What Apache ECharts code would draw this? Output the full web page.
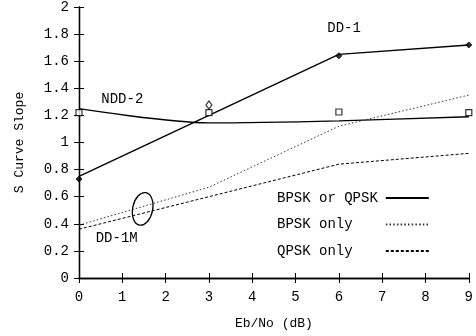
<!DOCTYPE html>
<html><head><meta charset="utf-8">
<script src="https://cdn.jsdelivr.net/npm/echarts@6/dist/echarts.min.js"></script>
<style>html,body{margin:0;padding:0;background:#fff}#c{width:476px;height:336px}</style>
</head><body><div id="c"></div>
<script>
const xVals = [0, 3, 6, 9];
const dd1 = [0.75, 1.20, 1.65, 1.72];
const ndd2 = [1.25, 1.145, 1.16, 1.19];
const bpskOnly = [0.39, 0.67, 1.12, 1.35];
const qpskOnly = [0.36, 0.60, 0.84, 0.92];
const squareMarks = [[0, 1.22], [3, 1.22], [6, 1.225], [9, 1.22]];
const diamondFilled = [[0, 0.73], [6, 1.64], [9, 1.72]];
const diamondOpen = [[3, 1.277]];
const legendNames = ['BPSK or QPSK', 'BPSK only', 'QPSK only'];
const annotations = [
  {text: 'NDD-2', x: 1.0, y: 1.32},
  {text: 'DD-1', x: 6.12, y: 1.84},
  {text: 'DD-1M', x: 0.87, y: 0.295}
];
const ellipse = {x: 1.47, y: 0.51};
const FONT = 'Liberation Mono';
const pair = arr => xVals.map((x, i) => [x, arr[i]]);

const chart = echarts.init(document.getElementById('c'), null, {renderer: 'canvas'});
const axisCommon = {
  axisLine: {show: true, lineStyle: {color: '#000', width: 1.3}},
  axisTick: {show: true, inside: true, length: 5, lineStyle: {color: '#000'}},
  splitLine: {show: false},
  axisLabel: {color: '#000', fontFamily: FONT, fontSize: 14}
};
chart.setOption({
  animation: false,
  backgroundColor: '#fff',
  grid: {left: 79, right: 4, top: 7, bottom: 58},
  xAxis: [
    Object.assign({}, axisCommon, {type: 'value', min: 0, max: 9, interval: 1, position: 'bottom',
      name: 'Eb/No (dB)', nameLocation: 'middle', nameGap: 39,
      nameTextStyle: {color: '#000', fontFamily: FONT, fontSize: 13},
      axisLabel: {color: '#000', fontFamily: FONT, fontSize: 14, margin: 12}}),
    Object.assign({}, axisCommon, {type: 'value', min: 0, max: 9, interval: 1, position: 'top',
      axisLabel: {show: false}})
  ],
  yAxis: [
    Object.assign({}, axisCommon, {type: 'value', min: 0, max: 2, interval: 0.2, position: 'left',
      name: 'S Curve Slope', nameLocation: 'middle', nameGap: 53,
      nameTextStyle: {color: '#000', fontFamily: FONT, fontSize: 13},
      axisLabel: {color: '#000', fontFamily: FONT, fontSize: 14, margin: 10}}),
    Object.assign({}, axisCommon, {type: 'value', min: 0, max: 2, interval: 0.2, position: 'right',
      axisLabel: {show: false}})
  ],
  legend: {
    show: true,
    data: legendNames,
    orient: 'vertical', left: 272, top: 186, align: 'right',
    itemWidth: 43, itemHeight: 14, itemGap: 12.5,
    formatter: n => n.padEnd(12, '\u00a0'),
    itemStyle: {color: 'transparent', borderWidth: 0, opacity: 0},
    textStyle: {color: '#000', fontFamily: FONT, fontSize: 14, padding: [0, 3, 0, 0]},
    inactiveColor: '#000'
  },
  series: [
    {name: legendNames[0], type: 'line', data: pair(dd1), symbol: 'none',
      lineStyle: {color: '#000', width: 1.4, type: 'solid'}, itemStyle: {color: '#000'}},
    {name: legendNames[0], type: 'line', data: pair(ndd2), symbol: 'none', smooth: 0.3,
      lineStyle: {color: '#000', width: 1.3, type: 'solid'}, itemStyle: {color: '#000'}},
    {name: legendNames[1], type: 'line', data: pair(bpskOnly), symbol: 'none',
      lineStyle: {color: '#333', width: 1, type: [1.5, 2.2]}, itemStyle: {color: '#333'}},
    {name: legendNames[2], type: 'line', data: pair(qpskOnly), symbol: 'none',
      lineStyle: {color: '#000', width: 1, type: [3, 2]}, itemStyle: {color: '#000'}},
    {name: 'sq', type: 'scatter', data: squareMarks, symbol: 'rect', symbolSize: 6,
      itemStyle: {color: '#fff', borderColor: '#000', borderWidth: 1.2}, z: 5},
    {name: 'df', type: 'scatter', data: diamondFilled, symbol: 'diamond', symbolSize: 6,
      itemStyle: {color: '#000', borderColor: '#000', borderWidth: 1}, z: 5},
    {name: 'do', type: 'scatter', data: diamondOpen, symbol: 'diamond', symbolSize: [6, 8],
      itemStyle: {color: '#fff', borderColor: '#000', borderWidth: 1.2}, z: 5}
  ]
});

const g = annotations.map(a => {
  const p = chart.convertToPixel({gridIndex: 0}, [a.x, a.y]);
  return {type: 'text', x: p[0], y: p[1], z: 10,
    style: {text: a.text, fill: '#000', font: '14px "' + FONT + '"', textAlign: 'center', textVerticalAlign: 'middle'}};
});
const ep = chart.convertToPixel({gridIndex: 0}, [ellipse.x, ellipse.y]);
g.push({type: 'ellipse', x: ep[0], y: ep[1], rotation: -0.2, z: 10,
  shape: {cx: 0, cy: 0, rx: 10, ry: 16.5},
  style: {fill: 'none', stroke: '#000', lineWidth: 1.3}});
chart.setOption({graphic: g});
</script>
</body></html>
